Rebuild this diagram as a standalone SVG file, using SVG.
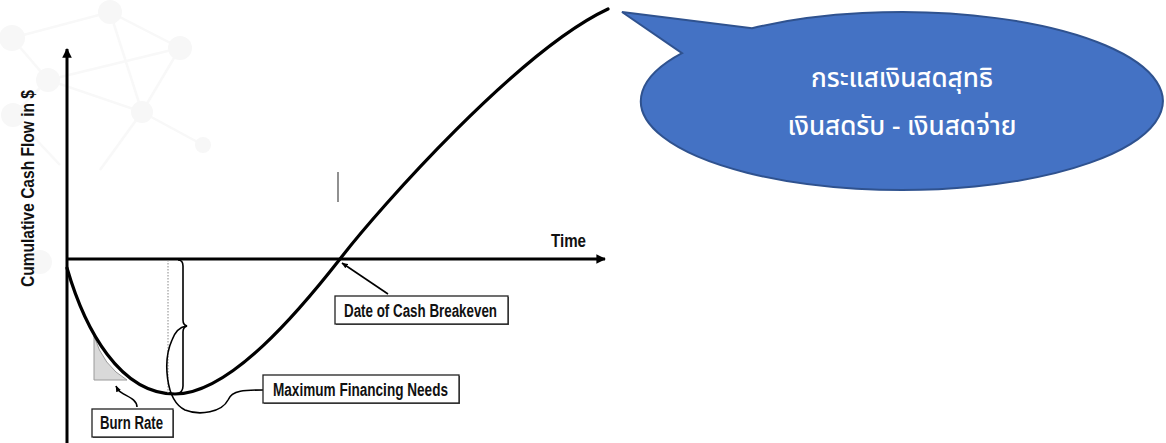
<svg xmlns="http://www.w3.org/2000/svg" width="1166" height="443" viewBox="0 0 1166 443">
  <defs>
    <style>
      .axis { stroke: #000; stroke-width: 3; fill: none; }
      .curve { stroke: #000; stroke-width: 3.2; fill: none; stroke-linecap: round; }
      .thin { stroke: #000; stroke-width: 1.6; fill: none; }
      .box { fill: #fff; stroke: #222; stroke-width: 1.3; }
      .shadow { fill: #555; }
      .lbl { font-family: "Liberation Sans Narrow", "Liberation Sans", Arial, sans-serif; font-weight: bold; fill: #111; }
      .thai { font-family: "Noto Sans Thai", "Noto Sans Thai UI", "Noto Sans", "DejaVu Sans", sans-serif; fill: #fff; font-size: 26px; font-weight: 500; text-anchor: middle; }
      .net { stroke: #f8f8f8; stroke-width: 2.5; fill: none; }
      .dot { fill: #f7f7f7; }
    </style>
    <marker id="axisHead" viewBox="0 0 10 10" refX="9" refY="5" markerWidth="3.2" markerHeight="3.2" orient="auto" markerUnits="strokeWidth">
      <path d="M0,0 L10,5 L0,10 Z" fill="#000"/>
    </marker>
    <marker id="smallHead" viewBox="0 0 10 10" refX="9" refY="5" markerWidth="4" markerHeight="4" orient="auto" markerUnits="strokeWidth">
      <path d="M0,1 L10,5 L0,9 Z" fill="#000"/>
    </marker>
  </defs>

  <rect width="1166" height="443" fill="#fff"/>

  <!-- faint network texture behind the chart -->
  <g id="texture">
    <path class="net" d="M12 38 L110 12 L180 48 L142 112 L48 80 L12 38 M48 80 L13 115 M142 112 L203 145 M110 12 L142 112 M48 80 L180 48 M13 115 L60 165 M142 112 L100 170"/>
    <circle class="dot" cx="12" cy="38" r="13"/>
    <circle class="dot" cx="48" cy="80" r="12"/>
    <circle class="dot" cx="110" cy="12" r="12"/>
    <circle class="dot" cx="180" cy="48" r="12"/>
    <circle class="dot" cx="13" cy="115" r="12"/>
    <circle class="dot" cx="142" cy="112" r="11"/>
    <circle class="dot" cx="203" cy="145" r="8"/>
    <circle class="dot" cx="40" cy="262" r="12"/>
  </g>

  <!-- axes -->
  <g id="axes">
    <line class="axis" x1="67" y1="443" x2="67" y2="49" marker-end="url(#axisHead)"/>
    <line class="axis" x1="66" y1="259" x2="605" y2="259" marker-end="url(#axisHead)"/>
    <text id="time-label" class="lbl" x="551" y="247" font-size="18" textLength="35" lengthAdjust="spacingAndGlyphs">Time</text>
    <text id="y-label" class="lbl" font-size="19" textLength="197" lengthAdjust="spacingAndGlyphs" transform="translate(34 287) rotate(-90)">Cumulative Cash Flow in $</text>
  </g>

  <!-- burn rate shading -->
  <g id="burn-shade">
    <path d="M94 336 L94 380 L127 380 Q103 366 94 336 Z" fill="#d9d9d9" stroke="#9a9a9a" stroke-width="1"/>
  </g>

  <!-- cumulative cash flow curve -->
  <g id="cash-curve">
    <path class="curve" d="M67 268 C85 330 120 394 175 394 C230 394 300 310 340 259 C380 207 520 50 608 9"/>
  </g>

  <!-- reference marks -->
  <g id="marks">
    <line x1="168" y1="260" x2="168" y2="393" stroke="#888" stroke-width="1" stroke-dasharray="1.5 1.5"/>
    <line x1="338" y1="172" x2="338" y2="202" stroke="#555" stroke-width="1.3"/>
  </g>

  <!-- connectors -->
  <g id="connectors">
    <path class="thin" d="M178 260 Q183 260 183 266 L183 320 Q183 325 187 326 Q183 327 183 332 L183 386 Q183 393 176 394"/>
    <path class="thin" d="M263 390 C245 390 232 390 228 400 C222 412 200 416 185 410 C165 400 163 360 172 340 C175 332 180 327 186 326"/>
    <path class="thin" d="M137 407 C137 398 124 396 118 390 L116 386" marker-end="url(#smallHead)"/>
    <line class="thin" x1="388" y1="294" x2="342" y2="263" marker-end="url(#smallHead)"/>
  </g>

  <!-- label boxes -->
  <g id="breakeven-node">
    <rect class="shadow" x="336" y="297" width="173" height="28"/>
    <rect class="box" x="335" y="296" width="173" height="28"/>
    <text class="lbl" x="344" y="317" font-size="18" textLength="153" lengthAdjust="spacingAndGlyphs">Date of Cash Breakeven</text>
  </g>

  <g id="max-financing-node">
    <rect class="shadow" x="264" y="376" width="196" height="28"/>
    <rect class="box" x="263" y="375" width="196" height="28"/>
    <text class="lbl" x="273" y="396" font-size="18" textLength="175" lengthAdjust="spacingAndGlyphs">Maximum Financing Needs</text>
  </g>

  <g id="burn-rate-node">
    <rect class="shadow" x="93" y="410" width="81" height="28"/>
    <rect class="box" x="92" y="409" width="81" height="28"/>
    <text class="lbl" x="100" y="429" font-size="18" textLength="63" lengthAdjust="spacingAndGlyphs">Burn Rate</text>
  </g>

  <!-- speech bubble -->
  <g id="net-cash-callout">
    <path d="M622 12 L752 28.2 A261 89 0 1 1 682 53.1 Z" fill="#4472C4" stroke="#2F528F" stroke-width="2" stroke-linejoin="miter"/>
    <text class="thai" x="902" y="87">กระแสเงินสดสุทธิ</text>
    <text class="thai" x="902" y="135">เงินสดรับ - เงินสดจ่าย</text>
  </g>
</svg>
